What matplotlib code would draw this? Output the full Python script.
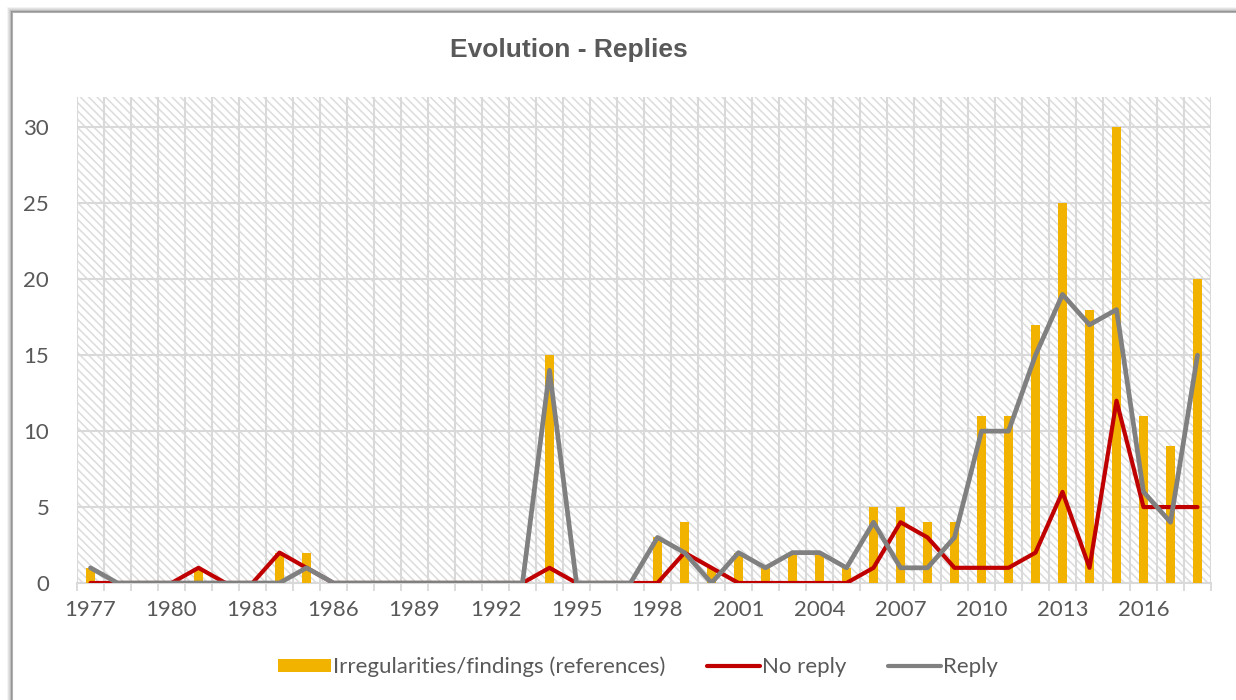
import matplotlib
matplotlib.use("Agg")
import matplotlib.pyplot as plt
import numpy as np
from matplotlib.patches import Rectangle, Patch
from matplotlib.lines import Line2D

years = list(range(1977, 2019))
findings = [1, 0, 0, 0, 1, 0, 0, 2, 2, 0, 0, 0, 0, 0, 0, 0, 0, 15, 0, 0, 0,
            3, 4, 1, 2, 1, 2, 2, 1, 5, 5, 4, 4, 11, 11, 17, 25, 18, 30, 11, 9, 20]
no_reply = [0, 0, 0, 0, 1, 0, 0, 2, 1, 0, 0, 0, 0, 0, 0, 0, 0, 1, 0, 0, 0,
            0, 2, 1, 0, 0, 0, 0, 0, 1, 4, 3, 1, 1, 1, 2, 6, 1, 12, 5, 5, 5]
reply = [1, 0, 0, 0, 0, 0, 0, 0, 1, 0, 0, 0, 0, 0, 0, 0, 0, 14, 0, 0, 0,
         3, 2, 0, 2, 1, 2, 2, 1, 4, 1, 1, 3, 10, 10, 15, 19, 17, 18, 6, 4, 15]
yticks = [0, 5, 10, 15, 20, 25, 30]

GOLD = "#F2B300"
RED = "#C00000"
GREY = "#808080"
TEXT = "#595959"
GRID = "#d9d9d9"

plt.rcParams["font.family"] = ["Lato", "DejaVu Sans"]
plt.rcParams["hatch.linewidth"] = 1.1

fig = plt.figure(figsize=(12.36, 7.0), dpi=100)
ax = fig.add_axes([77 / 1236, 1 - 583 / 700, (1211 - 77) / 1236, (583 - 97) / 700])

# chart frame with a soft shadow on the top and left edges
for k, a in enumerate([0.05, 0.08, 0.12, 0.18]):
    off = 4 - k
    fig.add_artist(Rectangle(((12 - off) / 1236, -0.1), 2, 1.1 - (12 - off) / 700,
                             transform=fig.transFigure, facecolor="none",
                             edgecolor="black", alpha=a, lw=1.2))
fig.add_artist(Rectangle((12 / 1236, -0.1), 2, 1.1 - 12 / 700,
                         transform=fig.transFigure, facecolor="white",
                         edgecolor="#b0b0b0", lw=1.5, zorder=-1))

x = np.arange(len(years))

# hatched plot area
ax.set_facecolor("white")
ax.add_patch(Rectangle((0, 0), 1, 1, transform=ax.transAxes, facecolor="white",
                       edgecolor="#dcdcdc", hatch="\\\\\\\\", lw=0, zorder=0))

ax.bar(x, findings, width=0.3, color=GOLD, zorder=3)
ax.plot(x, no_reply, color=RED, lw=3.0, zorder=4,
        solid_capstyle="round", solid_joinstyle="round")
ax.plot(x, reply, color=GREY, lw=3.4, zorder=5,
        solid_capstyle="round", solid_joinstyle="round")

ax.set_xlim(-0.5, len(years) - 0.5)
ax.set_ylim(0, 32)

ax.set_xticks(x[::3])
ax.set_xticklabels([str(y) for y in years[::3]])
ax.set_xticks(np.arange(-0.5, len(years)), minor=True)
ax.set_yticks(yticks)

ax.tick_params(axis="x", which="major", length=0, pad=12, labelsize=16, labelcolor=TEXT)
ax.tick_params(axis="x", which="minor", length=6, width=1.3, color=GRID)
ax.tick_params(axis="y", length=0, pad=20, labelsize=16, labelcolor=TEXT)

ax.grid(axis="y", which="major", color=GRID, lw=1.5, zorder=1)
ax.grid(axis="x", which="minor", color=GRID, lw=1.5, zorder=1)
ax.set_axisbelow(True)

for side in ["top", "right", "left"]:
    ax.spines[side].set_visible(False)
ax.spines["bottom"].set_color(GRID)
ax.spines["bottom"].set_linewidth(1.5)

fig.text(569 / 1236, 1 - 50 / 700, "Evolution - Replies", ha="center", va="center",
         fontsize=19, fontweight="bold", color=TEXT,
         family=["Liberation Sans", "DejaVu Sans"])

handles = [
    Patch(facecolor=GOLD, edgecolor="none"),
    Line2D([0], [0], color=RED, lw=3, solid_capstyle="round"),
    Line2D([0], [0], color=GREY, lw=3, solid_capstyle="round"),
]
labels = ["Irregularities/findings (references)", "No reply", "Reply"]
fig.legend(handles, labels, loc="center", bbox_to_anchor=(638 / 1236, 1 - 667 / 700),
           ncol=3, frameon=False, fontsize=16, labelcolor=TEXT,
           handlelength=2.35, handleheight=0.55, handletextpad=0.1, columnspacing=1.9)

fig.savefig("out.png", dpi=100)
